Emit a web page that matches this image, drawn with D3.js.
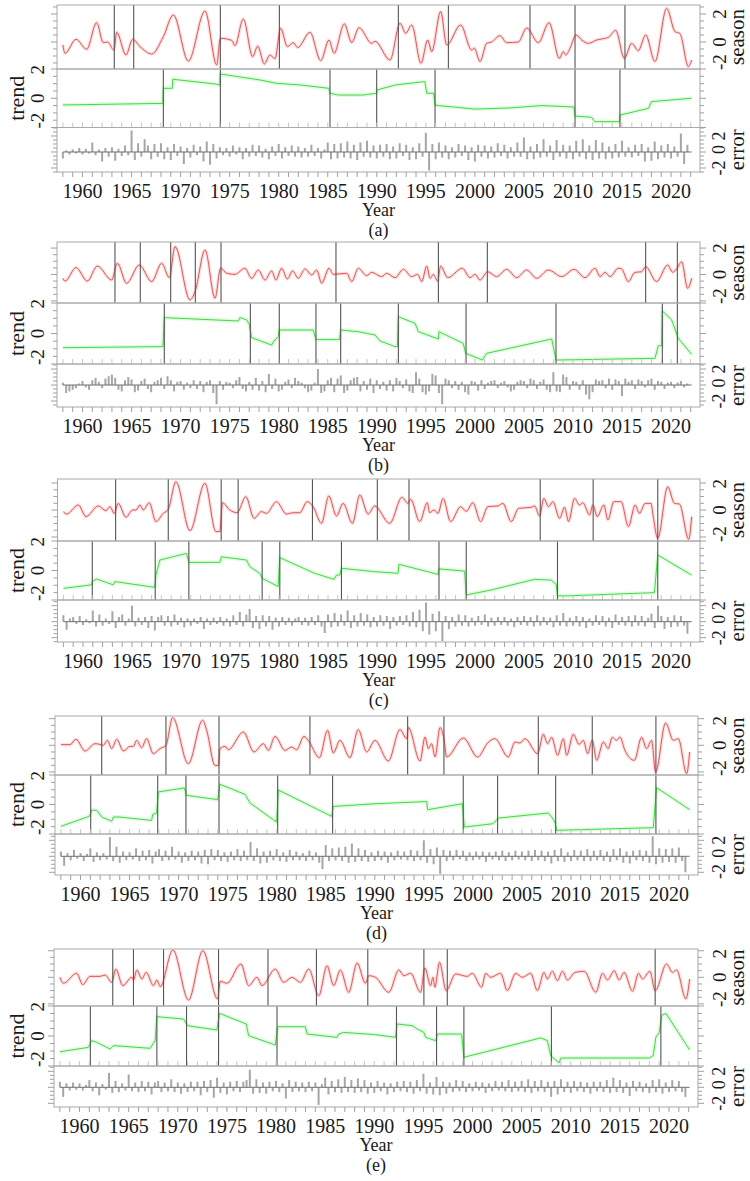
<!DOCTYPE html>
<html><head><meta charset="utf-8">
<script src="https://cdn.jsdelivr.net/npm/d3@7"></script>
<style>
body{margin:0;background:#fff}
svg{display:block}
text{font-family:"Liberation Serif","DejaVu Serif",serif;fill:#1a1a1a}
</style>
</head><body>
<svg id="c" width="750" height="1181" font-family="Liberation Serif, DejaVu Serif, serif"></svg>
<script>
// ---------------- DATA ----------------
const panelLabels = ["(a)","(b)","(c)","(d)","(e)"];
const yearLabels = [1960,1965,1970,1975,1980,1985,1990,1995,2000,2005,2010,2015,2020];
const seasonTicks = [-2,0,2];
const trendTicks = [-2,0,2];
const errorTicks = [-2,0,2];
const errStart = 1958, errPerYear = 3;

const seasonA = [[1958.0,-0.21],[1958.22,-0.81],[1959.34,0.19],[1960.42,-0.52],[1961.44,1.38],[1962.12,-0.05],[1962.53,0.0],[1963.21,-0.57],[1963.48,0.69],[1964.43,-0.93],[1965.11,0.19],[1965.86,-0.33],[1967.05,-0.86],[1968.24,0.38],[1969.26,1.93],[1970.79,-1.36],[1972.49,2.21],[1973.68,-1.64],[1974.05,0.26],[1975.2,0.12],[1975.54,-0.26],[1976.39,1.64],[1977.35,-1.05],[1977.86,-0.29],[1978.53,-1.57],[1979.11,-0.93],[1979.62,-1.2],[1980.2,0.98],[1980.88,-0.33],[1981.49,-0.05],[1981.93,-0.4],[1983.19,0.69],[1984.28,-1.33],[1985.13,0.14],[1985.64,-0.81],[1986.69,1.29],[1987.44,-0.05],[1988.19,1.02],[1989.48,-0.1],[1989.82,0.05],[1991.35,-1.29],[1992.37,1.33],[1992.95,0.62],[1993.56,1.21],[1994.51,-1.52],[1995.19,0.14],[1995.6,-0.69],[1996.51,2.17],[1997.13,-0.21],[1998.55,1.21],[1999.67,-0.57],[1999.95,-0.45],[2000.52,-1.4],[2001.2,-0.1],[2001.71,0.0],[2002.56,0.45],[2003.24,-0.05],[2004.43,0.0],[2005.28,1.0],[2006.47,-0.05],[2007.56,1.38],[2008.61,-1.17],[2009.02,-0.69],[2009.26,-0.93],[2009.7,-0.45],[2010.31,0.5],[2010.89,0.14],[2011.57,-0.1],[2012.42,0.14],[2013.61,0.33],[2014.35,0.83],[2015.24,-1.17],[2015.98,-0.1],[2016.66,-0.62],[2017.41,0.5],[2018.36,-1.4],[2019.55,2.4],[2020.4,0.74],[2020.91,0.6],[2021.76,-1.76],[2022.1,-1.29]];
const seasonB = [[1958.0,-0.29],[1958.22,-0.5],[1959.34,0.52],[1960.49,-0.5],[1961.51,0.64],[1962.97,-0.42],[1963.55,0.85],[1964.5,-0.67],[1965.79,0.72],[1967.05,-0.54],[1968.07,0.85],[1968.85,-0.24],[1969.43,2.11],[1970.96,-1.93],[1971.47,-1.3],[1972.49,1.86],[1973.51,-1.8],[1974.08,0.47],[1974.7,0.09],[1975.54,0.01],[1976.56,0.47],[1977.24,-0.3],[1977.92,0.34],[1978.6,-0.42],[1979.28,0.27],[1979.72,-0.42],[1980.3,0.47],[1980.88,-0.34],[1981.42,0.27],[1982.0,-0.29],[1982.68,0.42],[1983.36,-0.04],[1983.87,0.34],[1984.38,-0.67],[1985.13,0.47],[1985.57,0.01],[1986.93,0.09],[1987.44,-0.54],[1988.12,0.47],[1988.97,-0.09],[1989.48,0.16],[1990.5,-0.16],[1991.01,0.09],[1991.86,-0.24],[1992.71,0.39],[1993.56,-0.16],[1994.17,0.01],[1994.58,-0.54],[1995.09,0.64],[1995.43,-0.29],[1995.77,0.01],[1996.21,-0.5],[1996.51,0.64],[1997.23,-0.24],[1998.72,0.47],[1999.5,-0.24],[2000.01,0.01],[2000.52,-0.42],[2001.3,0.21],[2002.22,-0.16],[2003.24,0.39],[2004.26,-0.24],[2005.28,0.34],[2006.3,-0.29],[2007.49,0.34],[2008.85,-0.16],[2010.11,0.39],[2011.23,-0.24],[2012.25,0.47],[2012.76,-0.16],[2013.27,0.16],[2013.78,-0.16],[2014.62,0.47],[2014.96,0.42],[2015.64,-0.54],[2016.32,0.16],[2017.0,0.21],[2017.41,0.59],[2018.53,-0.54],[2019.65,0.72],[2020.16,0.17],[2020.57,0.42],[2021.08,0.97],[2021.69,-1.05],[2022.1,-0.29]];
const seasonC = [[1958.0,-0.12],[1958.33,-0.3],[1959.52,0.37],[1960.31,-0.49],[1961.56,0.3],[1962.34,-0.05],[1962.75,0.25],[1963.19,-0.25],[1963.6,0.49],[1964.38,-0.54],[1965.06,0.0],[1965.4,0.0],[1965.81,0.37],[1966.15,0.0],[1966.76,0.54],[1967.44,-0.86],[1968.19,-0.25],[1968.7,0.05],[1969.48,2.1],[1970.91,-1.53],[1972.44,1.98],[1973.56,-1.6],[1973.96,-1.6],[1974.24,0.54],[1974.98,0.0],[1975.73,-0.2],[1976.61,0.99],[1977.46,-0.62],[1978.21,-0.12],[1978.72,-0.25],[1979.74,0.62],[1980.76,-0.3],[1981.4,-0.2],[1982.12,-0.2],[1982.87,0.62],[1983.48,0.25],[1984.33,-0.99],[1985.08,1.04],[1985.86,-0.44],[1986.54,0.49],[1987.49,-0.99],[1988.24,1.11],[1989.09,-0.3],[1989.76,0.3],[1991.29,-0.99],[1992.55,0.94],[1993.16,0.49],[1993.43,0.79],[1994.35,-0.86],[1995.13,0.54],[1995.37,-0.2],[1995.81,0.0],[1996.22,-0.25],[1996.73,0.86],[1997.51,-0.86],[1998.53,0.25],[1999.1,-0.1],[1999.78,0.54],[2000.57,-0.86],[2001.31,0.25],[2002.33,0.3],[2002.84,0.49],[2003.69,-0.86],[2004.44,0.12],[2005.73,0.2],[2006.07,0.3],[2006.58,-0.44],[2007.02,0.86],[2007.5,0.25],[2007.94,0.62],[2008.62,-0.62],[2009.13,0.2],[2009.54,-0.86],[2010.15,0.86],[2010.66,0.37],[2011.0,0.54],[2011.68,-0.37],[2012.02,0.37],[2012.46,-0.49],[2013.14,0.37],[2013.55,-0.74],[2014.16,0.62],[2014.9,0.62],[2015.65,-1.23],[2016.33,0.37],[2016.77,-0.25],[2017.35,0.49],[2017.96,0.49],[2018.13,-0.25],[2018.64,-2.1],[2019.66,1.73],[2020.34,0.49],[2020.85,0.44],[2021.8,-2.17],[2022.1,-0.49]];
const seasonD = [[1958.0,0.05],[1958.93,0.05],[1959.54,0.45],[1960.46,-0.43],[1961.48,0.12],[1961.99,0.07],[1962.33,0.0],[1962.73,0.37],[1963.18,-0.25],[1963.69,0.45],[1964.37,-0.43],[1965.05,-0.08],[1965.39,-0.08],[1965.72,0.37],[1966.23,-0.18],[1966.74,0.5],[1967.42,-0.63],[1968.1,-0.25],[1968.71,0.0],[1969.39,2.08],[1970.99,-1.38],[1972.45,1.88],[1972.86,1.13],[1973.71,-1.51],[1974.05,-1.51],[1974.22,-0.26],[1974.73,-0.08],[1975.07,-0.33],[1976.6,1.0],[1977.69,-0.5],[1978.64,0.12],[1979.15,-0.38],[1979.83,0.67],[1980.85,-0.38],[1981.52,-0.13],[1982.03,-0.33],[1982.78,0.67],[1983.22,0.37],[1984.35,-0.93],[1985.19,1.13],[1985.77,-0.58],[1986.45,0.37],[1987.47,-0.93],[1988.32,1.18],[1989.17,-0.5],[1990.02,0.37],[1991.38,-1.18],[1992.57,1.18],[1993.25,0.5],[1993.42,1.33],[1994.61,-1.18],[1995.12,0.62],[1995.46,-0.25],[1995.8,0.12],[1996.14,-0.88],[1996.65,1.33],[1997.05,0.5],[1997.33,-0.88],[1999.02,0.55],[2000.49,-0.88],[2001.5,0.17],[2002.25,0.5],[2003.61,-0.88],[2004.29,0.25],[2004.8,0.17],[2005.31,0.5],[2006.6,-0.63],[2007.18,0.83],[2007.62,0.12],[2008.03,0.6],[2008.64,-0.75],[2009.22,0.5],[2009.56,-0.75],[2010.24,0.83],[2010.82,0.07],[2011.26,0.37],[2011.7,-0.63],[2012.17,0.37],[2012.62,-1.13],[2013.3,0.25],[2013.8,-0.25],[2014.21,0.6],[2014.65,0.37],[2014.99,0.62],[2015.5,-0.38],[2016.46,-1.13],[2017.2,0.6],[2017.71,-0.25],[2018.22,0.37],[2018.63,-2.01],[2019.65,1.68],[2020.43,0.37],[2020.94,0.5],[2021.79,-2.13],[2022.1,-0.5]];
const seasonE = [[1958.0,0.0],[1958.35,-0.45],[1959.71,0.3],[1960.32,-0.55],[1961.07,0.07],[1962.09,0.07],[1962.6,0.17],[1963.28,-0.38],[1963.69,0.62],[1964.4,-0.63],[1965.32,0.0],[1965.49,-0.2],[1965.83,0.55],[1966.34,-0.13],[1966.78,0.37],[1967.53,-0.63],[1967.87,-0.2],[1968.21,-0.7],[1969.5,2.05],[1971.09,-1.71],[1972.55,2.0],[1974.05,-1.63],[1974.32,-0.3],[1975.0,-0.45],[1976.43,1.0],[1977.21,-0.63],[1978.06,0.0],[1978.57,-0.63],[1979.92,0.62],[1980.78,-0.38],[1981.63,0.0],[1982.48,-0.38],[1983.33,0.62],[1984.35,-1.38],[1985.19,0.87],[1985.87,-0.63],[1986.55,0.55],[1987.4,-1.13],[1988.25,1.07],[1989.1,-0.45],[1989.44,0.12],[1990.12,0.0],[1991.48,-1.13],[1992.5,0.55],[1993.01,0.12],[1993.69,0.3],[1994.71,-1.13],[1995.15,0.7],[1995.73,-0.63],[1995.96,0.0],[1996.17,-0.75],[1996.64,1.13],[1997.32,-1.0],[1998.27,0.25],[1999.46,0.07],[1999.97,0.3],[2000.93,-0.75],[2001.33,0.3],[2001.84,0.0],[2002.86,0.3],[2003.54,-1.0],[2004.39,0.3],[2005.07,0.0],[2005.92,0.3],[2006.6,-1.0],[2007.28,0.37],[2007.62,-0.13],[2008.13,0.45],[2008.64,-0.25],[2009.15,0.45],[2009.66,-0.2],[2010.44,0.37],[2011.36,0.45],[2012.55,-1.13],[2013.23,0.3],[2013.74,-0.2],[2014.42,0.5],[2014.92,-0.2],[2015.43,0.37],[2016.28,-1.05],[2016.9,0.3],[2017.3,-0.13],[2018.05,0.45],[2018.59,-1.0],[2019.75,1.0],[2020.36,0.37],[2020.77,0.55],[2021.72,-1.63],[2022.1,-0.13]];

const trendA = [[1958.0,-0.46],[1968.2,-0.35],[1968.24,0.68],[1969.15,0.68],[1969.2,1.3],[1973.5,0.98],[1974.0,0.91],[1974.05,1.66],[1978.1,1.25],[1979.8,1.02],[1982.2,0.91],[1985.1,0.68],[1985.23,0.34],[1986.1,0.22],[1988.6,0.22],[1989.99,0.34],[1990.05,0.57],[1991.9,0.91],[1994.9,1.14],[1995.1,0.34],[1995.8,0.34],[1995.94,-0.46],[1996.3,-0.5],[2000.0,-0.74],[2003.4,-0.67],[2006.8,-0.5],[2010.1,-0.6],[2010.21,-1.22],[2011.9,-1.3],[2012.2,-1.6],[2014.75,-1.6],[2014.8,-1.15],[2017.7,-0.69],[2018.0,-0.23],[2022.1,0.0]];
const trendB = [[1958.0,-0.93],[1968.2,-0.86],[1968.34,1.04],[1975.88,0.82],[1976.05,1.04],[1976.73,0.9],[1977.0,0.6],[1977.11,0.2],[1977.24,-0.27],[1979.28,-0.76],[1979.52,-0.49],[1979.96,-0.2],[1980.06,0.23],[1983.53,0.23],[1983.8,-0.4],[1986.2,-0.4],[1986.32,0.23],[1988.12,0.12],[1989.82,-0.1],[1990.33,-0.49],[1991.86,-0.86],[1992.1,-0.86],[1992.2,1.1],[1993.9,0.67],[1994.24,0.12],[1996.28,-0.36],[1996.34,0.12],[1998.82,-0.65],[1999.06,-1.3],[2000.76,-1.74],[2001.2,-1.3],[2007.83,-0.36],[2008.27,-1.74],[2018.36,-1.63],[2018.7,-0.8],[2019.04,-0.8],[2019.11,1.48],[2020.06,0.89],[2020.74,-0.32],[2022.1,-1.37]];
const trendC = [[1958.0,-1.21],[1960.88,-0.97],[1960.95,-0.75],[1961.39,-0.58],[1963.09,-0.97],[1963.26,-0.75],[1967.27,-1.14],[1967.37,-0.9],[1967.44,-0.31],[1967.85,0.71],[1970.57,1.16],[1970.8,0.55],[1973.96,0.55],[1974.13,0.93],[1976.68,0.71],[1977.02,0.26],[1978.04,-0.19],[1978.28,-0.53],[1979.91,-1.09],[1980.08,0.87],[1983.65,-0.19],[1985.62,-0.6],[1985.86,-0.31],[1986.2,-0.31],[1986.37,0.15],[1989.76,-0.08],[1992.14,-0.19],[1992.24,0.42],[1996.22,-0.26],[1996.32,0.11],[1998.93,-0.04],[1999.1,-1.66],[2001.65,-1.32],[2006.07,-0.6],[2007.77,-0.65],[2008.28,-0.94],[2008.41,-1.72],[2009.47,-1.72],[2018.3,-1.5],[2018.64,1.05],[2022.1,-0.31]];
const trendD = [[1958.0,-1.48],[1960.9,-0.8],[1961.04,-0.6],[1961.14,-0.39],[1961.65,-0.39],[1962.16,-0.85],[1963.18,-1.13],[1963.35,-0.85],[1964.03,-0.85],[1967.25,-1.08],[1967.36,-0.67],[1967.76,-0.58],[1967.93,0.85],[1970.58,1.12],[1970.82,0.62],[1973.98,0.33],[1974.22,1.37],[1976.77,0.69],[1977.28,0.1],[1979.99,-1.19],[1980.17,0.98],[1985.6,-0.8],[1985.77,-0.13],[1990.02,0.05],[1995.29,0.2],[1995.39,-0.35],[1998.92,0.05],[1999.13,-1.53],[2002.08,-1.3],[2002.59,-0.92],[2007.69,-0.58],[2008.03,-0.85],[2008.37,-1.19],[2008.54,-1.75],[2018.39,-1.57],[2018.73,1.14],[2022.1,-0.35]];
const trendE = [[1958.0,-1.05],[1960.9,-0.76],[1961.1,-0.5],[1961.24,-0.31],[1961.75,-0.42],[1963.11,-0.87],[1963.28,-0.76],[1963.45,-0.64],[1967.19,-0.82],[1967.46,-0.53],[1967.7,-0.31],[1967.87,1.29],[1970.58,1.13],[1970.99,0.69],[1973.98,0.4],[1974.25,1.51],[1976.97,0.8],[1977.21,0.02],[1979.93,-0.6],[1980.17,0.62],[1982.99,0.62],[1983.16,0.13],[1986.21,-0.09],[1986.38,0.13],[1986.89,0.24],[1990.12,0.09],[1992.16,-0.09],[1992.33,0.8],[1993.86,0.69],[1994.37,0.47],[1995.05,0.24],[1995.22,-0.09],[1996.24,-0.31],[1996.44,0.13],[1998.89,0.13],[1999.12,-1.42],[2006.94,-0.13],[2007.62,-0.31],[2007.96,-1.31],[2008.81,-1.8],[2008.98,-1.47],[2017.98,-1.47],[2018.39,-1.31],[2018.66,-0.09],[2019.0,0.24],[2019.27,1.38],[2019.68,1.51],[2022.1,-0.93]];

const seasonBreaksA = [1963.24,1965.22,1974.05,1980.07,1992.2,1997.3,2005.62,2010.21,2015.3];
const trendBreaksA = [1968.24,1974.05,1985.23,1989.99,1995.94,2010.21,2014.79];
const seasonBreaksB = [1963.31,1965.89,1968.99,1971.5,1974.12,1985.84,1996.28,2001.27,2017.41,2020.64];
const trendBreaksB = [1968.34,1977.11,1980.06,1983.8,1986.32,1992.2,1999.1,2008.27,2019.11,2020.64];
const seasonBreaksC = [1963.33,1968.7,1974.1,1975.83,1983.41,1990.03,1993.26,2006.65,2012.05,2018.64];
const trendBreaksC = [1960.95,1967.37,1970.8,1978.28,1980.08,1986.37,1996.32,1999.1,2008.41,2018.64];
const seasonBreaksD = [1962.16,1968.71,1974.12,1983.39,1993.35,1997.05,2006.67,2012.17,2018.66];
const trendBreaksD = [1961.04,1967.87,1970.75,1974.12,1980.1,1985.7,1999.02,2002.52,2008.44,2018.66];
const seasonBreaksE = [1963.38,1965.49,1968.55,1974.15,1979.18,1984.11,1989.34,1995.05,1997.43,2018.59];
const trendBreaksE = [1961.1,1967.87,1970.89,1974.15,1980.1,1992.26,1996.34,1999.12,2008.03,2019.17];

// error component, three values per year from 1958
const errA = [-0.8,0.2,-0.3,0.3,-0.2,0.5,-0.3,0.4,-0.2,1.2,-0.4,0.3,-1.2,0.5,-0.6,
0.6,-1.1,0.4,-0.5,0.8,-0.4,2.7,-1.0,1.1,-0.6,1.6,0.8,-0.9,1.0,-0.6,
1.1,-0.9,0.6,-1.0,1.0,-0.5,0.7,-1.5,0.5,-0.7,0.9,-0.4,0.7,-1.2,1.3,
-1.6,1.0,-0.8,0.6,-0.4,0.5,-0.6,0.8,-0.3,0.6,-0.9,0.5,-0.6,0.9,-0.5,
0.8,-0.7,0.4,-0.9,0.7,-0.5,1.0,-0.8,0.6,-0.5,0.8,-0.6,0.7,-0.7,0.5,
-0.6,0.9,-0.5,0.5,-0.8,0.3,1.2,-0.9,1.0,-0.8,1.1,-0.7,1.3,-0.8,0.9,
-1.0,1.2,-0.6,1.4,-0.7,0.8,-0.8,0.9,-0.6,1.0,-0.9,0.7,-0.8,1.1,-0.5,
0.9,-1.0,0.6,-0.9,1.1,-0.6,2.4,-2.3,1.0,-0.9,1.2,-0.7,0.8,-0.9,0.6,
-0.7,1.0,-0.5,0.8,-1.0,0.6,-1.2,0.9,-0.6,0.8,-0.8,0.7,-0.7,1.1,-0.5,
0.9,-0.8,0.6,-0.6,1.2,-0.6,1.8,-0.9,0.7,-0.9,1.0,-0.7,1.6,-0.6,0.8,
-1.0,1.5,-0.6,0.9,-0.8,0.8,-0.9,1.4,-0.6,1.6,-0.9,0.8,-1.0,1.5,-0.8,
1.2,-0.9,0.7,-0.8,1.0,-0.7,1.4,-0.6,0.6,-0.7,0.9,-0.5,1.0,-1.2,0.6,
-1.1,1.3,-0.9,0.8,-0.7,1.0,-0.8,0.7,-0.6,2.3,-1.5,0.9];
const errB = [0.3,-1.0,-0.8,-0.6,-0.4,0.2,0.5,-0.3,-0.6,0.6,0.9,0.4,-0.4,0.8,1.1,
1.3,0.9,-0.6,-0.8,0.6,1.0,0.7,-0.9,-0.7,0.5,0.8,-0.5,-0.9,0.4,0.6,
0.9,-0.5,1.1,0.6,-0.8,0.4,0.5,-0.6,0.3,-0.4,0.6,-0.5,0.5,-0.9,0.4,
0.6,-1.0,-2.4,0.5,-0.6,0.4,0.3,-0.4,0.6,1.0,-0.5,-0.8,0.4,-0.6,0.9,
-0.7,0.5,-0.9,1.4,-0.5,0.8,-0.8,-0.6,0.4,0.7,-0.4,0.9,0.5,0.3,-0.4,
-0.9,-0.7,0.3,2.0,-1.0,-0.8,0.6,0.9,-0.9,0.8,1.2,-1.0,-0.7,0.6,0.9,
1.0,-0.8,0.5,-0.6,0.8,-1.0,0.6,-0.5,0.4,-0.7,0.6,-0.8,0.9,0.5,-0.4,
0.7,-0.8,-1.0,1.6,0.8,-0.9,-1.2,-0.8,1.4,1.2,-1.0,-2.4,0.8,0.6,-0.4,
0.5,-0.6,0.4,-0.9,-1.2,0.5,0.4,-0.7,0.6,-0.5,0.3,0.5,0.6,-0.4,0.3,
0.5,-0.3,-0.8,-0.6,0.4,0.6,0.5,-0.4,0.8,0.6,-0.5,0.4,0.7,-0.6,-0.9,
1.6,-0.8,-0.9,1.3,1.0,-0.6,0.5,0.4,-0.6,0.6,-1.2,-1.8,-0.9,0.7,0.5,
0.6,-0.4,0.8,-0.6,0.7,0.5,-1.4,0.8,0.4,0.6,-0.5,0.7,0.5,-0.3,0.6,
0.8,-0.6,0.5,0.4,-0.5,0.3,0.4,-0.4,0.3,0.5,-0.3,0.2];
const errC = [0.8,-1.0,0.4,0.6,-0.3,0.7,-0.4,0.3,-0.2,1.4,-0.6,0.9,-0.5,0.4,-0.3,
1.3,-0.8,0.6,0.9,-0.5,0.4,2.0,-0.6,0.5,-0.4,0.6,-0.8,0.7,-1.1,0.6,
0.8,-0.5,0.7,-0.6,0.9,-0.4,0.5,-0.7,0.4,-0.5,0.4,-0.3,0.6,-0.9,0.4,
-0.4,0.5,-0.3,0.6,-0.5,0.4,-0.6,0.8,-0.4,1.2,-0.6,0.9,1.6,-0.8,0.7,
-0.9,0.8,-0.6,0.7,-1.0,0.5,-0.6,0.6,-0.4,0.5,-0.5,0.4,0.6,-0.4,0.5,
-0.5,0.6,-0.4,0.8,-0.6,-1.4,0.9,-0.7,1.1,-0.6,0.9,-0.5,1.4,-0.8,0.8,
-0.6,1.1,-0.5,0.9,-0.7,0.6,-0.6,0.8,-0.5,0.7,-0.9,0.6,-0.5,0.7,-0.4,
0.8,-0.6,1.2,-0.7,1.5,-1.2,2.4,-1.6,1.0,-1.2,1.3,-2.4,0.7,-0.9,0.6,
-0.6,0.9,-0.5,0.8,-0.6,0.5,-0.5,0.7,-0.4,0.9,-0.6,0.5,-0.5,0.6,-0.4,
0.6,-0.5,0.4,-0.7,0.6,-0.4,0.7,-0.5,0.6,-0.6,0.8,-0.5,0.6,-0.4,0.5,
-0.7,0.8,-0.5,1.1,-0.6,0.5,-0.5,0.7,-0.6,0.6,-0.8,0.4,-0.5,0.8,-0.4,
0.7,-0.6,0.5,-0.8,0.9,-0.4,0.6,-0.5,0.7,-0.6,0.8,-0.5,0.7,-0.6,0.5,
1.0,-0.8,2.0,0.7,-0.9,0.6,-0.7,0.8,-0.6,0.7,-0.5,-1.5];
const errD = [0.6,-1.2,0.4,-0.5,0.8,-0.3,0.4,-0.6,0.3,1.0,-0.7,0.5,-0.5,0.4,-0.4,
2.4,-0.6,1.2,-0.8,0.6,-0.5,0.5,-0.4,1.0,-0.6,0.7,-0.5,0.8,-0.9,0.6,
0.9,-0.6,0.7,-0.5,1.2,-0.4,0.6,-0.8,0.5,-0.6,0.7,-0.5,0.6,-0.9,0.8,
-1.0,0.9,-0.5,0.8,-0.6,0.5,-0.7,0.6,-0.5,0.9,-0.6,0.7,-0.5,1.8,-0.6,
1.0,-0.9,0.6,-0.8,0.7,-0.5,0.9,-0.6,0.5,-0.7,0.8,-0.5,0.6,-0.5,0.4,
-0.6,0.7,-0.5,0.5,-0.8,-1.6,1.4,-0.6,1.0,-0.5,1.1,-0.6,1.2,-0.8,1.6,
-0.7,1.0,-0.6,0.8,-0.7,0.5,-0.6,0.7,-0.5,0.6,-0.8,0.5,-0.5,0.7,-0.4,
0.6,-0.5,0.8,-0.6,0.7,-0.5,2.0,-0.8,0.9,-1.0,1.1,-2.2,0.8,-0.6,0.7,
-0.5,0.8,-0.4,0.7,-0.6,0.5,-0.5,0.6,-0.4,0.6,-0.7,0.5,-0.4,0.6,-0.5,
0.7,-0.6,0.5,-0.5,0.7,-0.4,0.6,-0.5,0.7,-0.6,0.8,-0.5,0.7,-0.6,0.6,
-0.9,0.8,-0.6,1.0,-0.7,0.5,-0.6,0.8,-0.5,0.7,-0.6,0.9,-0.6,0.7,-0.5,
0.8,-0.6,0.6,-0.7,0.9,-0.5,1.0,-0.8,0.6,-0.9,0.7,-0.5,0.8,-0.6,0.7,
-0.8,2.5,-1.0,1.0,-0.8,0.9,-0.7,1.0,-0.8,1.1,-0.6,-2.0];
const errE = [0.7,-1.2,0.5,-0.4,0.6,-0.3,0.5,-0.4,0.3,0.9,-0.5,0.6,-1.0,0.4,-0.3,
1.8,-0.7,0.8,-0.6,0.5,-0.4,1.6,-0.5,0.6,-0.6,0.8,-0.5,0.7,-0.9,0.6,
0.8,-0.6,0.6,-0.5,1.0,-0.6,0.6,-0.8,0.5,-0.6,0.7,-0.5,0.7,-1.0,0.8,
-0.6,0.9,-1.3,1.2,-0.7,0.6,-0.9,0.7,-0.5,0.8,-0.6,0.7,0.9,2.2,-0.8,
1.0,-0.7,0.6,-0.8,0.7,-0.5,0.8,-0.6,0.5,-1.4,0.9,-0.6,0.7,-0.5,0.6,
-0.6,0.7,-0.5,0.6,-2.2,0.4,1.2,-0.9,0.8,-0.6,1.0,-0.7,1.3,-0.6,0.9,
-0.7,1.1,-0.6,0.9,-0.8,0.6,-0.7,0.8,-0.5,0.6,-0.9,0.5,-0.6,0.7,-0.5,
0.8,-0.6,0.7,-0.8,0.9,-0.5,1.7,-0.8,0.6,-0.9,1.3,-1.0,0.7,-0.8,0.6,
-0.6,0.9,-0.5,0.8,-0.6,0.5,-0.5,0.7,-0.4,0.6,-0.7,0.5,-0.5,0.8,-0.4,
0.7,-0.5,0.9,-0.6,0.7,-0.5,0.8,-0.6,1.0,-0.7,0.8,-0.5,0.9,-0.6,0.7,
-1.2,0.8,-0.9,1.0,-0.6,0.7,-0.7,0.8,-0.5,0.7,-0.6,0.6,-0.8,0.7,-0.5,
0.7,-0.6,0.9,-0.7,1.2,-0.6,0.9,-0.7,0.6,-1.1,0.8,-0.5,0.7,-0.6,0.5,
-0.7,0.9,-0.6,1.0,-0.8,0.6,-0.6,0.9,-0.5,0.8,-0.6,-1.2];

// ---------------- LAYOUT ----------------
const X_DOMAIN = [1957.4, 2022.95];
const TREND_DOMAIN = [-2, 2];
const layout = [
  {left:57, right:700, sTop:5,   sBot:69,   tBot:127.5, eBot:172,  sDom:[-1.93,2.64], eDom:[-2.5,3.06]},
  {left:57, right:700, sTop:242, sBot:303,  tBot:364,   eBot:407,  sDom:[-2.16,2.46], eDom:[-2.75,2.63]},
  {left:57.5,right:700,sTop:479, sBot:541,  tBot:600,   eBot:642,  sDom:[-2.3,2.3],   eDom:[-2.54,2.71]},
  {left:55, right:698, sTop:716, sBot:775,  tBot:834,   eBot:875,  sDom:[-2.23,2.2],  eDom:[-2.34,2.79]},
  {left:54, right:698, sTop:949, sBot:1006, tBot:1066,  eBot:1107, sDom:[-2.16,2.13], eDom:[-2.46,2.66]}
];
const sets = [
  {season:seasonA, trend:trendA, err:errA, sb:seasonBreaksA, tb:trendBreaksA},
  {season:seasonB, trend:trendB, err:errB, sb:seasonBreaksB, tb:trendBreaksB},
  {season:seasonC, trend:trendC, err:errC, sb:seasonBreaksC, tb:trendBreaksC},
  {season:seasonD, trend:trendD, err:errD, sb:seasonBreaksD, tb:trendBreaksD},
  {season:seasonE, trend:trendE, err:errE, sb:seasonBreaksE, tb:trendBreaksE}
];

const svg = d3.select("#c");
const FONT = "Liberation Serif, DejaVu Serif, serif";
const BOX = "#a9a9a9", TICK = "#a0a0a0", BREAK = "#555";

function rotText(g, x, y, str, size, lo, hi) {
  const t = g.append("text").attr("font-size", size).attr("font-family", FONT)
    .attr("text-anchor","middle").attr("dominant-baseline","central").text(str);
  let yy = y;
  if (lo !== undefined) {
    const w = t.node().getComputedTextLength();
    yy = Math.max(lo + w/2, Math.min(hi - w/2, y));
  }
  t.attr("transform", `translate(${x},${yy}) rotate(-90)`);
  return t;
}

function yAxis(g, scale, L, side, ticks) {
  const [d0, d1] = scale.domain();
  const minor = d3.range(Math.ceil(d0*2)/2, d1 + 1e-9, 0.5);
  const xEdge = side === "left" ? L.left : L.right;
  const dir = side === "left" ? -1 : 1;
  g.selectAll(null).data(minor).enter().append("line")
    .attr("x1", xEdge).attr("x2", d => xEdge + dir * (ticks.includes(d) ? 6 : 4))
    .attr("y1", d => scale(d)).attr("y2", d => scale(d))
    .attr("stroke", TICK).attr("stroke-width", 1);
}

function tickLabels(g, scale, lx, ticks, top, bot, size) {
  ticks.forEach(v => rotText(g, lx, scale(v), String(v), size, top, bot));
}

layout.forEach((L, i) => {
  const D = sets[i];
  const g = svg.append("g");
  const x = d3.scaleLinear().domain(X_DOMAIN).range([L.left, L.right]);
  const ys = d3.scaleLinear().domain(L.sDom).range([L.sBot, L.sTop]);
  const yt = d3.scaleLinear().domain(TREND_DOMAIN).range([L.tBot, L.sBot]);
  const ye = d3.scaleLinear().domain(L.eDom).range([L.eBot, L.tBot]);

  const cid = "clip" + i;
  const defs = g.append("defs");
  [["s", L.sTop, L.sBot], ["t", L.sBot, L.tBot], ["e", L.tBot, L.eBot]].forEach(([k, a, b]) => {
    defs.append("clipPath").attr("id", cid + k).append("rect")
      .attr("x", L.left).attr("y", a).attr("width", L.right - L.left).attr("height", b - a);
  });

  // ---- season ----
  const gs = g.append("g").attr("clip-path", `url(#${cid}s)`);
  const sLine = d3.line().x(d => x(d[0])).y(d => ys(d[1])).curve(d3.curveMonotoneX);
  gs.append("path").attr("d", sLine(D.season)).attr("fill","none")
    .attr("stroke","#fbe0e0").attr("stroke-width",3.5);
  gs.append("path").attr("d", sLine(D.season)).attr("fill","none")
    .attr("stroke","#e64a4a").attr("stroke-width",0.95);
  gs.selectAll(null).data(D.sb).enter().append("line")
    .attr("x1", d => x(d)).attr("x2", d => x(d)).attr("y1", L.sTop).attr("y2", L.sBot)
    .attr("stroke", BREAK).attr("stroke-width", 1.1);

  // ---- trend ----
  const gt = g.append("g").attr("clip-path", `url(#${cid}t)`);
  const tLine = d3.line().x(d => x(d[0])).y(d => yt(d[1]));
  gt.append("path").attr("d", tLine(D.trend)).attr("fill","none")
    .attr("stroke","#e2fae2").attr("stroke-width",4);
  gt.append("path").attr("d", tLine(D.trend)).attr("fill","none")
    .attr("stroke","#3fdc3f").attr("stroke-width",1);
  gt.selectAll(null).data(D.tb).enter().append("line")
    .attr("x1", d => x(d)).attr("x2", d => x(d)).attr("y1", L.sBot).attr("y2", L.tBot)
    .attr("stroke", BREAK).attr("stroke-width", 1.1);
  const years = d3.range(1958, 2023);
  g.selectAll(null).data(years).enter().append("line")
    .attr("x1", d => x(d)).attr("x2", d => x(d)).attr("y1", L.tBot).attr("y2", L.tBot - 5)
    .attr("stroke", "#c8c8c8").attr("stroke-width", 1);

  // ---- error ----
  const ge = g.append("g").attr("clip-path", `url(#${cid}e)`);
  ge.selectAll(null).data(D.err).enter().append("line")
    .attr("x1", (d, k) => x(errStart + k / errPerYear)).attr("x2", (d, k) => x(errStart + k / errPerYear))
    .attr("y1", ye(0)).attr("y2", d => ye(d))
    .attr("stroke", "#a6a6a6").attr("stroke-width", 2);
  ge.append("line").attr("x1", x(1958)).attr("x2", x(2022.1))
    .attr("y1", ye(0)).attr("y2", ye(0)).attr("stroke", "#6e6e6e").attr("stroke-width", 1);

  // ---- boxes ----
  [[L.sTop, L.sBot], [L.sBot, L.tBot], [L.tBot, L.eBot]].forEach(([a, b]) => {
    g.append("rect").attr("x", L.left).attr("y", a).attr("width", L.right - L.left).attr("height", b - a)
      .attr("fill", "none").attr("stroke", BOX).attr("stroke-width", 1);
  });

  // ---- y axes ----
  yAxis(g, ys, L, "right", seasonTicks);
  yAxis(g, ys, L, "left", seasonTicks);
  yAxis(g, yt, L, "left", trendTicks);
  yAxis(g, yt, L, "right", trendTicks);
  yAxis(g, ye, L, "right", errorTicks);
  yAxis(g, ye, L, "left", errorTicks);

  tickLabels(g, ys, 719, seasonTicks, L.sTop, L.sBot + 1, 19);
  tickLabels(g, yt, 37.5, trendTicks, L.sBot - 4, L.tBot + 1, 19);
  const eLo = L.tBot - 1, eHi = L.eBot + 4;
  rotText(g, 719, ye(2), "2", 18, eLo, eHi);
  rotText(g, 719, ye(-2), "-2", 18, eLo, eHi);
  rotText(g, 719, (Math.max(eLo + 5, ye(2)) + Math.min(eHi - 9, ye(-2))) / 2 - 2, "0", 18);

  rotText(g, 737, (L.sTop + L.sBot) / 2, "season", 21);
  rotText(g, 16, (L.sBot + L.tBot) / 2, "trend", 22);
  rotText(g, 737, (L.tBot + L.eBot) / 2, "error", 21);

  // ---- x axis ----
  g.selectAll(null).data(years).enter().append("line")
    .attr("x1", d => x(d)).attr("x2", d => x(d)).attr("y1", L.eBot).attr("y2", L.eBot + 5)
    .attr("stroke", TICK).attr("stroke-width", 1);
  g.selectAll(null).data(yearLabels).enter().append("text")
    .attr("font-family", FONT)
    .attr("x", d => x(d)).attr("y", L.eBot + 26).attr("text-anchor", "middle")
    .attr("font-size", 20).text(d => d);
  const cx = (L.left + L.right) / 2;
  g.append("text").attr("font-family", FONT).attr("x", cx).attr("y", L.eBot + 44).attr("text-anchor","middle")
    .attr("font-size", 18).text("Year");
  g.append("text").attr("font-family", FONT).attr("x", cx).attr("y", L.eBot + 64).attr("text-anchor","middle")
    .attr("font-size", 18).text(panelLabels[i]);
});
</script>
</body></html>
